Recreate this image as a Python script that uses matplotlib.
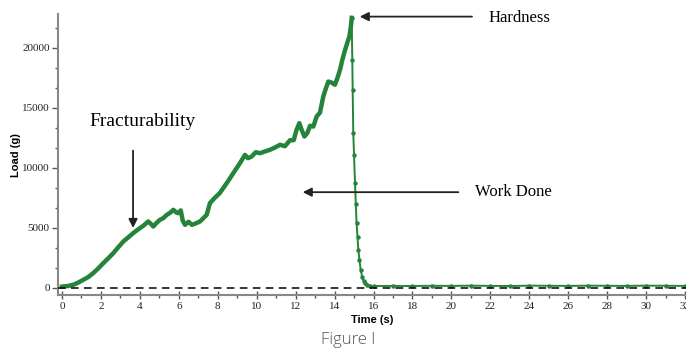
import matplotlib
matplotlib.use("Agg")
import matplotlib.pyplot as plt
from matplotlib.ticker import MultipleLocator, AutoMinorLocator

# loading phase (compression up to the peak)
t_load = [0.0, 0.3, 0.58, 0.85, 1.1, 1.35, 1.6, 1.85, 2.12, 2.4, 2.64, 2.9,
          3.15, 3.4, 3.66, 3.85, 4.0, 4.2, 4.43, 4.55, 4.69, 4.85, 5.03, 5.2,
          5.38, 5.55, 5.72, 5.85, 5.97, 6.1, 6.2, 6.32, 6.5, 6.67, 6.85, 7.09,
          7.26, 7.43, 7.6, 7.85, 8.1, 8.46, 8.8, 9.14, 9.4, 9.55, 9.74, 9.95,
          10.17, 10.4, 10.68, 10.95, 11.2, 11.45, 11.71, 11.9, 12.05, 12.19,
          12.3, 12.45, 12.6, 12.74, 12.91, 13.08, 13.25, 13.42, 13.55, 13.68,
          13.85, 14.02, 14.15, 14.28, 14.4, 14.54, 14.65, 14.76, 14.84, 14.88]
load_up = [100, 150, 250, 450, 670, 900, 1220, 1600, 2050, 2500, 2900, 3400,
           3860, 4200, 4560, 4800, 4970, 5200, 5530, 5350, 5110, 5400, 5670, 5800,
           6080, 6250, 6500, 6300, 6220, 6450, 5600, 5250, 5500, 5250, 5350, 5530,
           5800, 6080, 7060, 7500, 7890, 8720, 9560, 10390, 11080, 10800, 10940, 11300,
           11220, 11350, 11500, 11700, 11920, 11800, 12300, 12300, 13170, 13720,
           13200, 12610, 12900, 13500, 13440, 14280, 14600, 15940, 16600, 17190,
           17100, 16920, 17500, 18170, 19000, 19830, 20400, 20940, 21800, 22500]

# fracture / release phase
t_drop = [14.88, 14.91, 14.93, 14.96, 15.0, 15.05, 15.09, 15.13, 15.18, 15.22,
          15.28, 15.34, 15.42, 15.5, 15.56, 15.65, 15.8, 16.0, 17, 18, 19, 20,
          21, 22, 23, 24, 25, 26, 27, 28, 29, 30, 31, 32]
load_down = [22500, 19000, 16500, 12890, 11080, 8720, 7000, 5390, 4200, 3170,
             2300, 1500, 900, 550, 390, 250, 170, 150, 160, 150, 170, 160,
             180, 160, 150, 180, 170, 160, 180, 170, 160, 180, 170, 160]

green = '#23843a'
serif = 'Liberation Serif'

fig = plt.figure(figsize=(6.86, 3.51), dpi=100)
ax = fig.add_axes([0.0847, 0.1595, 0.9153, 0.80])

ax.plot(t_load, load_up, color=green, lw=3.2, solid_joinstyle='round')
ax.plot(t_drop, load_down, color=green, lw=1.4, marker='o', ms=2.2)
ax.axhline(0, color='black', lw=1.1, ls=(0, (5, 3.5)), zorder=5)

ax.set_xlim(-0.2, 32.05)
ax.set_ylim(-600, 22800)

ax.xaxis.set_major_locator(MultipleLocator(2))
ax.xaxis.set_minor_locator(MultipleLocator(1))
ax.yaxis.set_major_locator(MultipleLocator(5000))
ax.yaxis.set_minor_locator(AutoMinorLocator(3))

for s in ['top', 'right']:
    ax.spines[s].set_visible(False)
for s in ['left', 'bottom']:
    ax.spines[s].set_color('#888888')
    ax.spines[s].set_linewidth(1.5)

ax.tick_params(which='major', length=4, width=1, color='#555555',
               labelsize=8, labelcolor='#222222', pad=2)
ax.tick_params(axis='x', which='major', direction='inout', length=6)
ax.tick_params(which='minor', length=2, width=1, color='#555555')
for lab in ax.get_xticklabels() + ax.get_yticklabels():
    lab.set_fontfamily(serif)

ax.set_ylabel('Load (g)', fontsize=8, fontweight='bold', family='Liberation Sans', labelpad=1)
ax.set_xlabel('Time (s)', fontsize=8, fontweight='bold', family='Liberation Sans', labelpad=3)

arrow = dict(arrowstyle='-|>', color='#222222', lw=1.3, mutation_scale=13)
ax.annotate('', xy=(3.65, 4750), xytext=(3.65, 11670), arrowprops=arrow)
ax.text(4.16, 13830, 'Fracturability', family=serif, fontsize=14,
        ha='center', va='center')
ax.annotate('', xy=(15.15, 22600), xytext=(21.2, 22600), arrowprops=arrow)
ax.text(21.9, 22450, 'Hardness', family=serif, fontsize=12, va='center')
ax.annotate('', xy=(12.22, 7970), xytext=(20.5, 7970), arrowprops=arrow)
ax.text(21.2, 7970, 'Work Done', family=serif, fontsize=12, va='center')

fig.text(348 / 686, 1 - 340 / 351, 'Figure I', family='Open Sans', fontsize=12,
         color='#555555', ha='center', va='center', fontweight='light')

fig.savefig('out.png', dpi=100)
